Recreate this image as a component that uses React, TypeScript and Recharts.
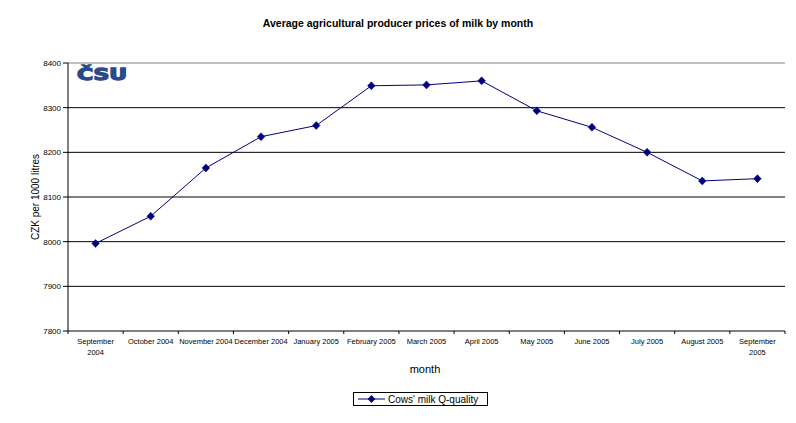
import { LineChart, Line, XAxis, YAxis, CartesianGrid, Legend, ReferenceLine, Customized } from 'recharts'

const months = [
  'September 2004',
  'October 2004',
  'November 2004',
  'December 2004',
  'January 2005',
  'February 2005',
  'March 2005',
  'April 2005',
  'May 2005',
  'June 2005',
  'July 2005',
  'August 2005',
  'September 2005',
]
const milkPrices = [7996, 8057, 8165, 8235, 8260, 8349, 8351, 8360, 8293, 8256, 8200, 8136, 8141]
const priceTicks = [7800, 7900, 8000, 8100, 8200, 8300, 8400]
const gridValues = [7900, 8000, 8100, 8200, 8300]
const seriesName = "Cows' milk Q-quality"

const data = months.map((month, i) => ({ month, price: milkPrices[i] }))

const FONT = '"Liberation Sans", Arial, sans-serif'
const NAVY = '#000080'
const PLOT_LEFT = 68
const PLOT_RIGHT = 785
const BAND = (PLOT_RIGHT - PLOT_LEFT) / months.length

function MonthTick(props: any) {
  const { x, y, payload, index } = props
  const label: string = payload.value
  const words = label.split(' ')
  const lines = label.length > 13 ? [words.slice(0, -1).join(' '), words[words.length - 1]] : [label]
  return (
    <g>
      <line x1={x - BAND / 2} y1={y} x2={x - BAND / 2} y2={y + 3} stroke="#000" />
      {index === months.length - 1 && (
        <line x1={x + BAND / 2} y1={y} x2={x + BAND / 2} y2={y + 3} stroke="#000" />
      )}
      <text x={x} y={y + 13} textAnchor="middle" fontSize={7.5} fontFamily={FONT} fill="#000">
        {lines.map((l, i) => (
          <tspan key={i} x={x} dy={i === 0 ? 0 : 11}>
            {l}
          </tspan>
        ))}
      </text>
    </g>
  )
}

function Diamond(props: any) {
  const { cx, cy, index } = props
  return (
    <path
      key={index}
      d={`M${cx},${cy - 4} L${cx + 3.8},${cy} L${cx},${cy + 4} L${cx - 3.8},${cy} Z`}
      fill={NAVY}
      stroke={NAVY}
      strokeWidth={0.5}
    />
  )
}

function Overlay() {
  return (
    <g fontFamily={FONT}>
      <text x={398} y={27} textAnchor="middle" fontSize={10.5} fontWeight="bold" fill="#000">
        Average agricultural producer prices of milk by month
      </text>
      <text x={425} y={373} textAnchor="middle" fontSize={11} fill="#000">
        month
      </text>
      <text
        x={0}
        y={0}
        transform="translate(39,197) rotate(-90)"
        textAnchor="middle"
        fontSize={10}
        fill="#000"
      >
        CZK per 1000 litres
      </text>
      <text
        x={77}
        y={80}
        fontSize={15}
        fontWeight="bold"
        fill="#2a4a8c"
        stroke="#2a4a8c"
        strokeWidth={1.3}
        strokeLinejoin="miter"
        textLength={50}
        lengthAdjust="spacingAndGlyphs"
        fontFamily='"DejaVu Sans", sans-serif'
      >
        ČSU
      </text>
    </g>
  )
}

function LegendBox() {
  return (
    <div
      style={{
        border: '1px solid #000',
        height: 14,
        display: 'flex',
        alignItems: 'center',
        boxSizing: 'border-box',
        fontFamily: FONT,
        fontSize: 10,
        background: '#fff',
      }}
    >
      <svg width={32} height={12} style={{ display: 'block' }}>
        <line x1={4} y1={6} x2={31} y2={6} stroke={NAVY} />
        <path d="M17.5,2 L21.3,6 L17.5,10 L13.7,6 Z" fill={NAVY} />
      </svg>
      <span style={{ whiteSpace: 'nowrap', marginLeft: 2 }}>{seriesName}</span>
    </div>
  )
}

export default function App() {
  return (
    <div style={{ position: 'absolute', left: 0, top: 0, width: 796, height: 423, background: '#fff' }}>
      <LineChart width={796} height={423} data={data} margin={{ top: 63, right: 11, bottom: 62, left: 8 }}>
        <CartesianGrid vertical={false} stroke="#000" horizontalValues={gridValues} />
        <XAxis
          dataKey="month"
          scale="band"
          interval={0}
          height={30}
          tickSize={0}
          tickMargin={0}
          tickLine={false}
          axisLine={{ stroke: '#000' }}
          tick={<MonthTick />}
        />
        <YAxis
          domain={[7800, 8400]}
          ticks={priceTicks}
          interval={0}
          width={60}
          tickSize={5}
          tickMargin={2}
          axisLine={{ stroke: '#000' }}
          tickLine={{ stroke: '#000' }}
          tick={{ fontSize: 8, fill: '#000', fontFamily: FONT }}
        />
        <YAxis
          yAxisId="right"
          orientation="right"
          width={0}
          tick={false}
          tickLine={false}
          axisLine={{ stroke: '#808080' }}
        />
        <ReferenceLine y={8400} stroke="#808080" />
        <Line
          type="linear"
          dataKey="price"
          name={seriesName}
          stroke={NAVY}
          strokeWidth={1}
          dot={<Diamond />}
          activeDot={false}
          isAnimationActive={false}
        />
        <Legend
          layout="horizontal"
          verticalAlign="middle"
          align="center"
          content={() => <LegendBox />}
          wrapperStyle={{ left: 353, top: 392, width: 135, height: 14 }}
        />
        <Customized component={Overlay} />
      </LineChart>
    </div>
  )
}
